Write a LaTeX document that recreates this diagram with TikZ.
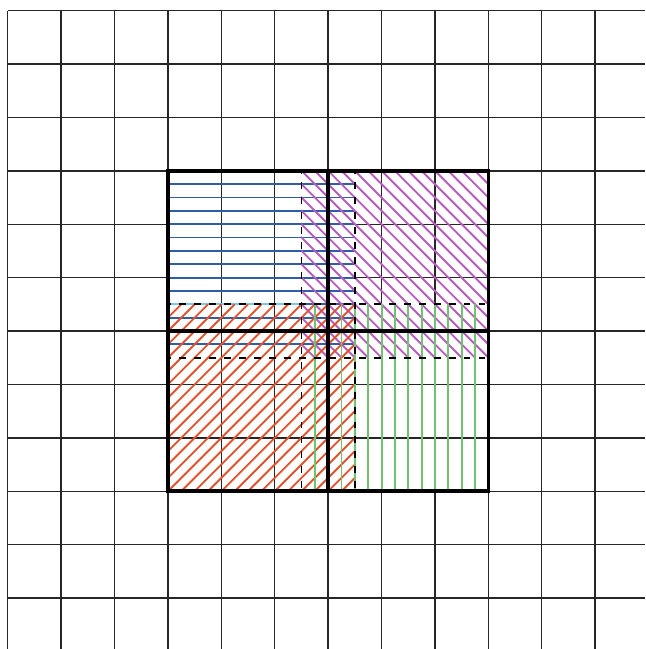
\documentclass[tikz,border=0pt]{standalone}
\usepackage{tikz}

\definecolor{hatchblue}{RGB}{48,92,172}
\definecolor{hatchcyan}{RGB}{120,200,230}
\definecolor{hatchmag}{RGB}{184,92,190}
\definecolor{hatchred}{RGB}{226,82,44}
\definecolor{hatchgreen}{RGB}{112,196,112}

\begin{document}
\begin{tikzpicture}[
    gridline/.style={draw=black!85, line width=0.75pt},
    bound/.style={draw=black, line width=1.9pt},
    cut/.style={draw=black, line width=1pt, dash pattern=on 0.13cm off 0.15cm, dash phase=0.065cm},
    hatch/.style={line width=1pt}
  ]
  \useasboundingbox (-3.146,-2.955) rectangle (8.933,9.199);
  \draw[gridline] (-3,-2.955) grid (8.933,9);

  % blue: horizontal lines, upper left
  \foreach \y in {2.75,3,...,5.75} {
    \draw[hatch, hatchblue] (0,\y) -- (3.5,\y);
  }
  \draw[hatch, hatchcyan] (0,3.5) -- (2.5,3.5);

  % magenta: falling diagonals, upper right
  \begin{scope}
    \clip (2.5,2.5) rectangle (6,6);
    \foreach \c in {2.5,2.75,...,9.5} {
      \draw[hatch, hatchmag] (\c,2.5) -- ++(-3.5,3.5);
    }
  \end{scope}

  % red: rising diagonals, lower left
  \begin{scope}
    \clip (0,0) rectangle (3.5,3.5);
    \foreach \c in {-3.5,-3.25,...,3.5} {
      \draw[hatch, hatchred] (\c,0) -- ++(3.5,3.5);
    }
  \end{scope}

  % green: vertical lines, lower right
  \foreach \x in {2.75,3,...,5.75} {
    \draw[hatch, hatchgreen] (\x,0) -- (\x,3.5);
  }

  % dashed overlap borders
  \draw[cut] (0,2.5) -- (6,2.5);
  \draw[cut] (0,3.5) -- (6,3.5);
  \draw[cut] (2.5,6) -- (2.5,0);
  \draw[cut] (3.5,6) -- (3.5,0);

  % the four squares
  \draw[bound] (0,0) rectangle (6,6);
  \draw[bound] (3,0) -- (3,6);
  \draw[bound] (0,3) -- (6,3);
\end{tikzpicture}
\end{document}
